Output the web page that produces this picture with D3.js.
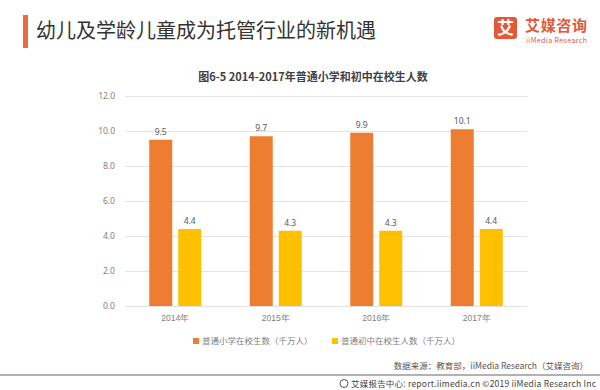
<!DOCTYPE html>
<html>
<head>
<meta charset="utf-8">
<script src="https://cdn.jsdelivr.net/npm/d3@7"></script>
<style>
  body { margin: 0; background: #fff; }
  svg { display: block; font-family: "Noto Sans CJK SC", "Noto Sans", sans-serif; }
</style>
</head>
<body>
<svg id="chart" width="600" height="390"></svg>
<script>
const years = ["2014年", "2015年", "2016年", "2017年"];
const seriesNames = ["普通小学在校生数（千万人）", "普通初中在校生人数（千万人）"];
const primary = [9.5, 9.7, 9.9, 10.1];
const junior = [4.4, 4.3, 4.3, 4.4];
const yTicks = [0, 2, 4, 6, 8, 10, 12];
const colors = ["#ED7D31", "#FFC000"];

const svg = d3.select("#chart");
const plot = { left: 125, right: 527, top: 96, bottom: 306 };

// page header
svg.append("rect").attr("x", 23).attr("y", 15).attr("width", 5).attr("height", 33).attr("fill", "#EC6A3C");
svg.append("text").attr("x", 36).attr("y", 38).attr("font-size", 20).attr("fill", "#333")
  .text("幼儿及学龄儿童成为托管行业的新机遇");

// logo
const logo = svg.append("g");
logo.append("rect").attr("x", 494).attr("y", 17).attr("width", 23).attr("height", 22).attr("rx", 3).attr("fill", "#E2593A");
logo.append("text").attr("x", 505.5).attr("y", 34).attr("text-anchor", "middle").attr("font-size", 17)
  .attr("font-weight", "bold").attr("fill", "#fff").text("艾");
logo.append("text").attr("x", 525).attr("y", 31).attr("font-size", 15).attr("font-weight", "bold")
  .attr("fill", "#E2593A").attr("textLength", 62).text("艾媒咨询");
logo.append("text").attr("x", 526).attr("y", 43).attr("font-size", 7).attr("fill", "#E2593A")
  .attr("textLength", 61).text("iiMedia Research");

// chart title
svg.append("text").attr("x", 313).attr("y", 81).attr("text-anchor", "middle").attr("font-size", 11)
  .attr("font-weight", "bold").attr("fill", "#404040").text("图6-5 2014-2017年普通小学和初中在校生人数");

const x0 = d3.scaleBand().domain(years).range([plot.left, plot.right]);
const bw = x0.bandwidth();
const x1 = d3.scaleBand().domain([0, 1]).range([bw / 2 - 26, bw / 2 + 26]).paddingInner(0.207);
const y = d3.scaleLinear().domain([0, 12]).range([plot.bottom, plot.top]);

// y axis with gridlines
const yAxis = svg.append("g").attr("transform", `translate(${plot.left},0)`)
  .call(d3.axisLeft(y).tickValues(yTicks).tickFormat(d3.format(".1f"))
    .tickSize(-(plot.right - plot.left)).tickPadding(10));
yAxis.select(".domain").remove();
yAxis.selectAll("line").attr("stroke", "#e3e3e3");
yAxis.selectAll("text").attr("fill", "#7f7f7f").attr("font-size", 8.5).attr("font-family", "Noto Sans, sans-serif");

// x axis labels
const xAxis = svg.append("g").attr("transform", `translate(0,${plot.bottom})`)
  .call(d3.axisBottom(x0).tickSize(0).tickPadding(9));
xAxis.select(".domain").remove();
xAxis.selectAll("text").attr("fill", "#7f7f7f").attr("font-size", 8.5);

// bars
const rows = years.map((yr, i) => ({ year: yr, values: [primary[i], junior[i]] }));
const groups = svg.append("g").selectAll("g").data(rows).join("g")
  .attr("transform", d => `translate(${x0(d.year)},0)`);

groups.selectAll("rect").data(d => d.values.map((v, k) => ({ k, v }))).join("rect")
  .attr("x", d => x1(d.k)).attr("width", x1.bandwidth())
  .attr("y", d => y(d.v)).attr("height", d => y(0) - y(d.v))
  .attr("fill", d => colors[d.k]);

groups.selectAll("text").data(d => d.values.map((v, k) => ({ k, v }))).join("text")
  .attr("x", d => x1(d.k) + x1.bandwidth() / 2).attr("y", d => y(d.v) - 5)
  .attr("text-anchor", "middle").attr("font-size", 8.5).attr("fill", "#595959")
  .attr("font-family", "Noto Sans, sans-serif")
  .text(d => d3.format(".1f")(d.v));

// legend
const legendX = [193, 332];
const legend = svg.append("g").selectAll("g").data(seriesNames).join("g")
  .attr("transform", (d, i) => `translate(${legendX[i]},341)`);
legend.append("rect").attr("x", 0).attr("y", -3).attr("width", 6).attr("height", 6)
  .attr("fill", (d, i) => colors[i]);
legend.append("text").attr("x", 9).attr("y", 3).attr("font-size", 8.5).attr("fill", "#7f7f7f").text(d => d);

// source and footer
svg.append("text").attr("x", 588).attr("y", 369).attr("text-anchor", "end").attr("font-size", 8.5)
  .attr("fill", "#555").text("数据来源：教育部，iiMedia Research（艾媒咨询）");
svg.append("line").attr("x1", 0).attr("x2", 600).attr("y1", 375).attr("y2", 375)
  .attr("stroke", "#999").attr("stroke-width", 1.5);
svg.append("circle").attr("cx", 344).attr("cy", 383.5).attr("r", 4).attr("fill", "none")
  .attr("stroke", "#555").attr("stroke-width", 1);
svg.append("text").attr("x", 351).attr("y", 387).attr("font-size", 8.5).attr("textLength", 245)
  .attr("fill", "#444").text("艾媒报告中心: report.iimedia.cn  ©2019  iiMedia Research  Inc");
</script>
</body>
</html>
